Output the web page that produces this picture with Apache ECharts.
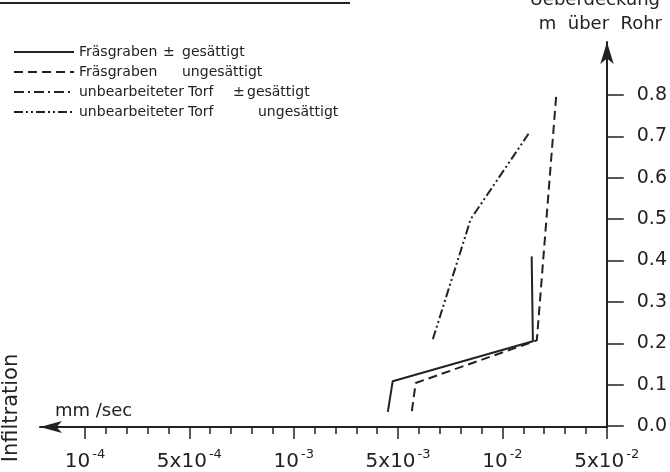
<!DOCTYPE html>
<html>
<head>
<meta charset="utf-8">
<script src="https://cdn.jsdelivr.net/npm/echarts@6/dist/echarts.min.js"></script>
<style>html,body{margin:0;padding:0;background:#fff;}#c{width:670px;height:472px;}</style>
</head>
<body>
<div id="c"></div>
<script>
// X-axis anchor values (mm/sec) at equally spaced label positions
const xAnchors = [1e-4, 5e-4, 1e-3, 5e-3, 1e-2, 5e-2];
const xLabelBase = ['10', '5x10', '10', '5x10', '10', '5x10'];
const xLabelExp = ['-4', '-4', '-3', '-3', '-2', '-2'];
const yTicks = [0, 0.1, 0.2, 0.3, 0.4, 0.5, 0.6, 0.7, 0.8];

const seriesNames = [
  'Fräsgraben ± gesättigt',
  'Fräsgraben ungesättigt',
  'unbearbeiteter Torf ± gesättigt',
  'unbearbeiteter Torf ungesättigt'
];

// Infiltration (mm/sec) and cover depth (m über Rohr)
const fgSatRate = [4.27e-3, 4.6e-3, 1.6e-2, 1.57e-2];
const fgSatDepth = [0.034, 0.108, 0.205, 0.41];
const fgUnsatRate = [5.48e-3, 5.62e-3, 1.70e-2, 2.31e-2];
const fgUnsatDepth = [0.036, 0.104, 0.207, 0.814];
const torfSatRate = [];
const torfSatDepth = [];
const torfUnsatRate = [6.3e-3, 8.1e-3, 1.52e-2];
const torfUnsatDepth = [0.21, 0.50, 0.71];

function toPos(v) {
  for (let i = 0; i < xAnchors.length - 1; i++) {
    if (v <= xAnchors[i + 1] || i === xAnchors.length - 2) {
      return i + Math.log(v / xAnchors[i]) / Math.log(xAnchors[i + 1] / xAnchors[i]);
    }
  }
}
function pairs(xs, ys) { return xs.map((x, i) => [toPos(x), ys[i]]); }

const FONT = 'DejaVu Sans';
const INK = '#222';

const legendRich = {
  'Fräsgraben ± gesättigt': '{a|Fräsgraben}{p|±}{c|gesättigt}',
  'Fräsgraben ungesättigt': '{a2|Fräsgraben}{c|ungesättigt}',
  'unbearbeiteter Torf ± gesättigt': '{b|unbearbeiteter}{t|Torf}{p3|±}{c|gesättigt}',
  'unbearbeiteter Torf ungesättigt': '{b|unbearbeiteter}{t4|Torf}{c|ungesättigt}'
};
const tokenStyle = { fontSize: 14, fontFamily: FONT, color: INK };

const chart = echarts.init(document.getElementById('c'));
chart.setOption({
  backgroundColor: '#fff',
  animation: false,
  textStyle: { fontFamily: FONT, color: INK },
  legend: {
    orient: 'vertical', left: 8, top: 40, itemWidth: 60, itemHeight: 14, itemGap: 6,
    data: seriesNames,
    itemStyle: { opacity: 0 },
    formatter: n => legendRich[n],
    textStyle: {
      fontSize: 14, fontFamily: FONT, color: INK,
      rich: {
        a: { fontSize: 14, width: 84 }, a2: { fontSize: 14, width: 103 },
        p: { fontSize: 14, width: 19 }, c: { fontSize: 14 },
        b: { fontSize: 14, width: 109 }, t: { fontSize: 14, width: 45 },
        p3: { fontSize: 14, width: 14 }, t4: { fontSize: 14, width: 70 }
      }
    }
  },
  grid: [
    { left: 40, right: 63, top: 42, bottom: 45 },
    { left: 85, right: 63, top: 95, bottom: 45 }
  ],
  xAxis: [
    { gridIndex: 0, type: 'value', min: 0, max: 1, axisLabel: { show: false }, axisTick: { show: false }, splitLine: { show: false },
      axisLine: { onZero: false, lineStyle: { color: INK, width: 2 }, symbol: ['arrow', 'none'], symbolSize: [9, 22] } },
    { gridIndex: 1, type: 'value', min: 0, max: 5, interval: 1, splitLine: { show: false },
      axisLine: { show: false, onZero: false },
      axisTick: { show: true, length: 13, lineStyle: { color: INK, width: 1.5 } },
      minorTick: { show: true, splitNumber: 5, length: 8, lineStyle: { color: INK, width: 1.5 } },
      axisLabel: {
        margin: 22,
        formatter: v => { const i = Math.round(v); return '{b|' + xLabelBase[i] + '}{s|' + xLabelExp[i] + '}'; },
        rich: {
          b: { fontSize: 20, fontFamily: FONT, color: INK, verticalAlign: 'bottom', lineHeight: 24 },
          s: { fontSize: 13, fontFamily: FONT, color: INK, verticalAlign: 'top', lineHeight: 24, padding: [0, 0, 0, 2] }
        }
      } }
  ],
  yAxis: [
    { gridIndex: 0, type: 'value', position: 'right', min: 0, max: 1, axisLabel: { show: false }, axisTick: { show: false }, splitLine: { show: false },
      axisLine: { show: true, onZero: false, lineStyle: { color: INK, width: 2 }, symbol: ['none', 'arrow'], symbolSize: [10, 22] } },
    { gridIndex: 1, type: 'value', position: 'right', min: 0, max: 0.8, interval: 0.1, splitLine: { show: false },
      axisLine: { show: false, onZero: false },
      axisTick: { show: true, length: 17, lineStyle: { color: INK, width: 1.5 } },
      axisLabel: { margin: 30, fontSize: 19, fontFamily: FONT, color: INK, formatter: v => v.toFixed(1) } }
  ],
  series: [
    { name: seriesNames[0], type: 'line', xAxisIndex: 1, yAxisIndex: 1, symbol: 'none', data: pairs(fgSatRate, fgSatDepth),
      lineStyle: { color: INK, width: 2, type: 'solid' }, itemStyle: { color: INK } },
    { name: seriesNames[1], type: 'line', xAxisIndex: 1, yAxisIndex: 1, symbol: 'none', data: pairs(fgUnsatRate, fgUnsatDepth),
      lineStyle: { color: INK, width: 2, type: [9, 5] }, itemStyle: { color: INK } },
    { name: seriesNames[2], type: 'line', xAxisIndex: 1, yAxisIndex: 1, symbol: 'none', data: pairs(torfSatRate, torfSatDepth),
      lineStyle: { color: INK, width: 2, type: [10, 4, 2, 4] }, itemStyle: { color: INK } },
    { name: seriesNames[3], type: 'line', xAxisIndex: 1, yAxisIndex: 1, symbol: 'none', data: pairs(torfUnsatRate, torfUnsatDepth),
      lineStyle: { color: INK, width: 2, type: [9, 3, 2, 3, 2, 3] }, itemStyle: { color: INK } }
  ],
  graphic: [
    { type: 'line', shape: { x1: 0, y1: 3, x2: 350, y2: 3 }, style: { stroke: INK, lineWidth: 2 } },
    { type: 'text', x: 55, y: 411, style: { text: 'mm /sec', font: '18px "DejaVu Sans"', fill: INK, textAlign: 'left', textVerticalAlign: 'middle' } },
    { type: 'text', x: 12, y: 408, rotation: Math.PI / 2, style: { text: 'Infiltration', font: '21px "DejaVu Sans"', fill: INK, textAlign: 'center', textVerticalAlign: 'middle' } },
    { type: 'text', x: 660, y: 0, style: { text: 'Ueberdeckung', font: '18px "DejaVu Sans"', fill: INK, textAlign: 'right', textVerticalAlign: 'middle' } },
    { type: 'text', x: 662, y: 24, style: { text: 'm  über  Rohr', font: '18px "DejaVu Sans"', fill: INK, textAlign: 'right', textVerticalAlign: 'middle' } }
  ]
});
</script>
</body>
</html>
